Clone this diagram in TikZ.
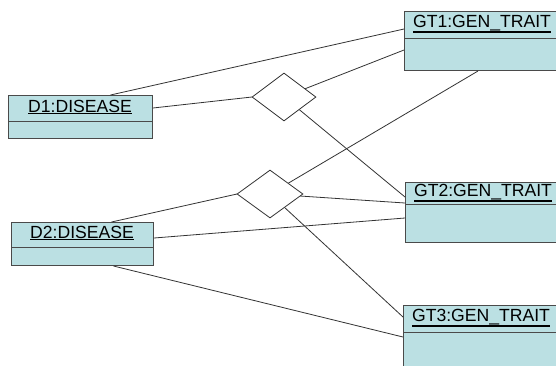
\documentclass[tikz,border=0pt]{standalone}
\usepackage{fontspec}
\setmainfont{Liberation Sans}
\usetikzlibrary{shapes.geometric}
\definecolor{boxfill}{HTML}{BBE0E3}
\definecolor{boxline}{HTML}{4A4A4A}
\definecolor{wire}{HTML}{333333}
\newcommand\ulx[1]{\setbox0=\hbox{#1}\leavevmode\rlap{\rule[\dimexpr-\dp0-1.6pt\relax]{\wd0}{1.3pt}}\box0}
\begin{document}
\begin{tikzpicture}[x=1pt,y=-1pt,
  classbox/.style={draw=boxline,fill=boxfill,line width=1pt,anchor=north west,inner sep=0pt,minimum width=#1},
  classbox/.default=144,
  title/.style={font=\fontsize{17.6}{20}\selectfont,inner sep=0pt,text=black},
  rel/.style={draw=wire,line width=0.8pt,fill=white,diamond,inner sep=0pt},
  conn/.style={draw=wire,line width=0.8pt}]
\clip (0,0) rectangle (556,365);
\fill[white] (0,0) rectangle (556,365);
% class boxes
\node[classbox=144,minimum height=43] (d1) at (8,95) {};
\draw[boxline,line width=1pt] (8,121) -- (152,121);
\node[title] (d1t) at (80,107) {\ulx{D1:DISEASE}};
\node[classbox=142,minimum height=43] (d2) at (11,222) {};
\draw[boxline,line width=1pt] (11,247) -- (153,247);
\node[title] (d2t) at (82,233) {\ulx{D2:DISEASE}};
\node[classbox=156,minimum height=59] (gt1) at (404,11) {};
\draw[boxline,line width=1pt] (404,38) -- (560,38);
\node[title] (gt1t) at (482,24) {\ulx{GT1:GEN\_TRAIT}};
\node[classbox=156,minimum height=60] (gt2) at (405,182) {};
\draw[boxline,line width=1pt] (405,204) -- (561,204);
\node[title] (gt2t) at (483,193) {\ulx{GT2:GEN\_TRAIT}};
\node[classbox=156,minimum height=80] (gt3) at (403,305) {};
\draw[boxline,line width=1pt] (403,332) -- (559,332);
\node[title] (gt3t) at (481,318) {\ulx{GT3:GEN\_TRAIT}};
% connectors
\draw[conn] ([xshift=30pt]d1.north) -- ([yshift=-18pt]gt1.north west);
\draw[conn] ([yshift=-13pt]d1.north east) -- (284-32,97);
\draw[conn] ([xshift=29pt]d2.north) -- (270-33,194);
\draw[conn] ([yshift=-16pt]d2.north east) -- ([yshift=-36pt]gt2.north west);
\draw[conn] ([xshift=31pt]d2.south) -- ([yshift=-32pt]gt3.north west);
\coordinate (c1) at (284,97);
\coordinate (c2) at (270,194);
\draw[conn] (c1) -- ([yshift=-39pt]gt1.north west);
\draw[conn] (c1) -- ([yshift=-15pt]gt2.north west);
\draw[conn] (c2) -- ([xshift=74pt]gt1.south west);
\draw[conn] (c2) -- ([yshift=-21pt]gt2.north west);
\draw[conn] (c2) -- ([yshift=-12pt]gt3.north west);
% diamonds on top
\node[rel,minimum width=64,minimum height=48] (dia1) at (c1) {};
\node[rel,minimum width=66,minimum height=48] (dia2) at (c2) {};
\end{tikzpicture}
\end{document}
